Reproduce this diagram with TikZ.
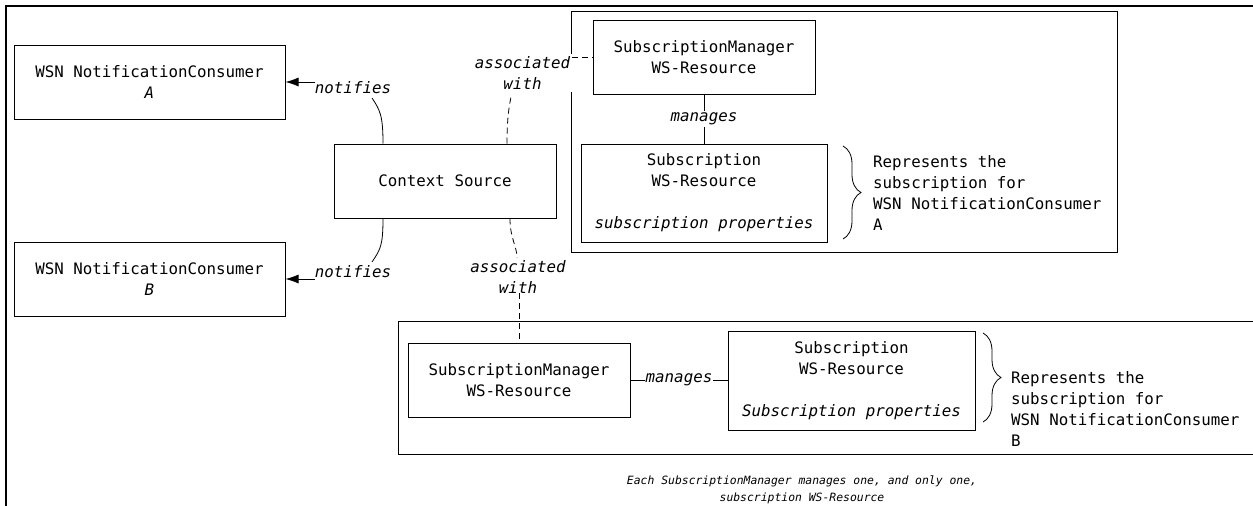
\documentclass[tikz,border=0pt]{standalone}
\usepackage{fontspec}
\setmonofont{DejaVu Sans Mono}
\usepackage{tikz}
\usetikzlibrary{calc, arrows.meta, decorations.pathreplacing}

\newcommand{\boxfont}{\fontsize{15.8}{21}\selectfont\ttfamily}
\newcommand{\notefont}{\fontsize{11.4}{17}\selectfont\ttfamily\itshape}

\tikzset{
	box/.style = {draw, line width=1pt, inner sep=0pt, minimum width=222pt, minimum height=74pt, align=center, font=\boxfont},
	lbl/.style = {inner sep=0pt, align=center, font=\boxfont\itshape},
	txt/.style = {inner sep=0pt, align=left, font=\boxfont},
	assoc/.style = {dash pattern=on 6pt off 4pt, line width=0.8pt},
	link/.style = {line width=0.8pt},
}

\begin{document}
\begin{tikzpicture}[x=1pt, y=-1pt]
		\useasboundingbox (0,0) rectangle (1253,506);

		% outer frame
		\draw [line width=2pt] (1253,6) -- (6,6) -- (6,506);

		\node [box, minimum width=271pt] (consA) at (149.5,82) {WSN NotificationConsumer\\\textit{A}};
		\node [box, minimum width=271pt] (consB) at (149.5,279) {WSN NotificationConsumer\\\textit{B}};
		\node [box] (cs) at (445,181) {Context Source};

		\node [lbl] (notA) at (353,88) {notifies};
		\node [lbl] (notB) at (353,272) {notifies};

		\draw [link, -{Latex[length=13pt,width=9pt]}] (notA.west |- consA.east) -- (consA.east);
		\draw [link, -{Latex[length=13pt,width=9pt]}] (notB.west |- consB.east) -- (consB.east);
		\draw [link] ($(cs.north)+(-62,0)$) .. controls +(0,-28) and +(8,12) .. ($(notA.center)+(19,10)$);
		\draw [link] ($(cs.south)+(-62,0)$) .. controls +(0,28) and +(8,-12) .. ($(notB.center)+(19,-10)$);

		\begin{scope}
			\node [draw, line width=1pt, inner sep=0pt, minimum width=546pt, minimum height=241pt] (grpA) at (844,131.5) {};

			\node [box] (smA) at (704,57) {SubscriptionManager\\WS-Resource};
			\node [box, minimum width=246pt, minimum height=98pt] (subA) at (704,193) {Subscription\\WS-Resource\\[21pt]\textit{subscription properties}};

			\draw [link] (smA.south) -- node [lbl, fill=white, inner sep=2pt] {manages} (subA.north);

			\draw [decorate, decoration={brace, amplitude=18pt}, line width=0.8pt] (843,146) -- (843,239);
			\node [txt, anchor=west] (repA) at (873,192.5) {Represents the\\subscription for\\WSN NotificationConsumer\\A};
		\end{scope}

		\node [lbl, fill=white, inner sep=2pt] (assA) at (522.5,73) {associated\\with};
		\draw [assoc] (assA.east |- smA.west) -- (smA.west);
		\draw [assoc] ($(cs.north)+(62,0)$) .. controls +(0,-25) and +(-2,10) .. ($(assA.center)+(-11.5,24)$);

		\begin{scope}
			\draw [line width=1pt] (1253,321) -- (398,321) -- (398,454) -- (1253,454);

			\node [box] (smB) at (519,380) {SubscriptionManager\\WS-Resource};
			\node [box, minimum width=247pt, minimum height=99pt] (subB) at (851.5,380.5) {Subscription\\WS-Resource\\[21pt]\textit{Subscription properties}};

			\draw [link] (smB.east) -- node [lbl, fill=white, inner sep=1pt] {manages} (smB.east -| subB.west);

			\draw [decorate, decoration={brace, amplitude=18pt}, line width=0.8pt] (983,333) -- (983,422);
			\node [txt, anchor=west] (repB) at (1011,408.5) {Represents the\\subscription for\\WSN NotificationConsumer\\B};
		\end{scope}

		\node [lbl] (assB) at (518,276.5) {associated\\with};
		\draw [assoc] ($(cs.south)+(65,0)$) .. controls +(0,20) and +(0,-12) .. ($(assB.center)+(-1,-18.5)$);
		\draw [assoc] (assB.south -| smB.north) -- (smB.north);

		\node [inner sep=0pt, align=center, font=\notefont] (note) at (802,489.5) {Each SubscriptionManager manages one, and only one,\\subscription WS-Resource};
	\end{tikzpicture}
\end{document}
